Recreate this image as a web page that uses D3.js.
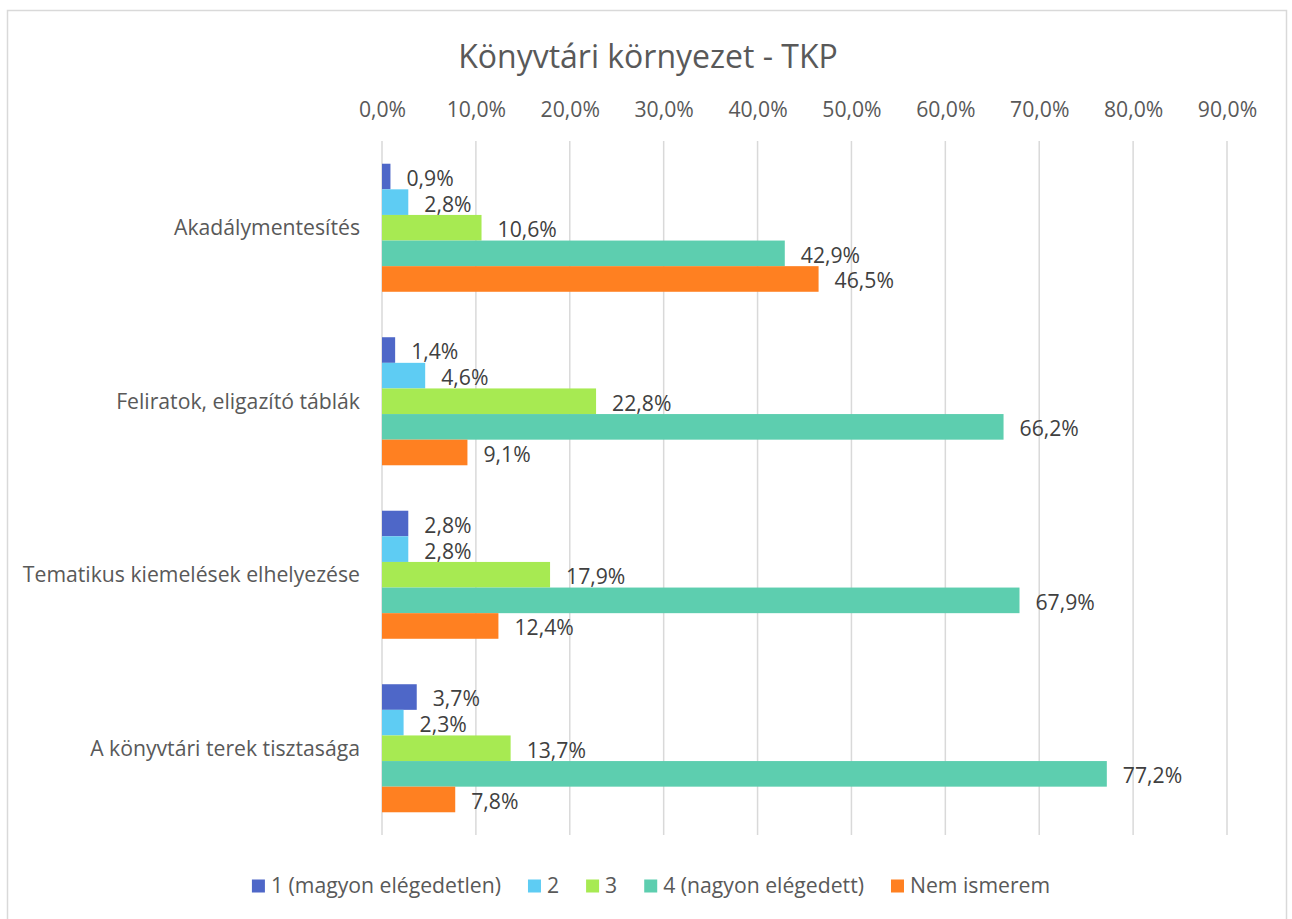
<!DOCTYPE html>
<html>
<head>
<meta charset="utf-8">
<script src="https://cdn.jsdelivr.net/npm/d3@7"></script>
<style>
    body { margin: 0; background: #fff; }
    svg text { font-family: "Open Sans", "Noto Sans", sans-serif; }
</style>
</head>
<body>
<div id="chart"></div>
<script>
// Chart data
const categories = ["Akadálymentesítés", "Feliratok, eligazító táblák", "Tematikus kiemelések elhelyezése", "A könyvtári terek tisztasága"];
const seriesNames = ["1 (magyon elégedetlen)", "2", "3", "4 (nagyon elégedett)", "Nem ismerem"];
const seriesColors = ["#4E67C8", "#5ECCF3", "#A7EA52", "#5DCEAF", "#FF8021"];
const values = [
    [0.9, 2.8, 10.6, 42.9, 46.5],
    [1.4, 4.6, 22.8, 66.2, 9.1],
    [2.8, 2.8, 17.9, 67.9, 12.4],
    [3.7, 2.3, 13.7, 77.2, 7.8]
];
const xTicks = [0, 10, 20, 30, 40, 50, 60, 70, 80, 90];

const width = 1292, height = 919;
const margin = {top: 141, left: 382};
const fontSize = 21.2;

const svg = d3.select("#chart").append("svg")
    .attr("width", width)
    .attr("height", height);

// chart frame
svg.append("rect")
    .attr("x", 7.5).attr("y", 10.5)
    .attr("width", 1279).attr("height", 930)
    .attr("fill", "none")
    .attr("stroke", "#d9d9d9")
    .attr("stroke-width", 1.5);

svg.append("text")
    .attr("x", 648).attr("y", 68)
    .attr("text-anchor", "middle")
    .attr("font-size", 32)
    .attr("fill", "#595959")
    .text("Könyvtári környezet - TKP");

const g = svg.append("g")
    .attr("transform", `translate(${margin.left},${margin.top})`);

const x = d3.scaleLinear().domain([0, 90]).range([0, 845]);

const y0 = d3.scaleBand()
    .domain(categories)
    .range([0, 694])
    .paddingInner(0.262)
    .paddingOuter(0.131);

const y1 = d3.scaleBand()
    .domain(d3.range(seriesNames.length))
    .range([0, y0.bandwidth()]);

// gridlines
g.selectAll(".grid")
    .data(xTicks)
    .enter().append("line")
    .attr("class", "grid")
    .attr("x1", d => x(d)).attr("x2", d => x(d))
    .attr("y1", 0).attr("y2", 694)
    .attr("stroke", "#d9d9d9")
    .attr("stroke-width", 1.5);

// top axis
const xAxis = d3.axisTop(x)
    .tickValues(xTicks)
    .tickSize(0)
    .tickPadding(0)
    .tickFormat(d => d.toFixed(1).replace(".", ",") + "%");

const axisG = g.append("g")
    .attr("transform", "translate(0,-24)")
    .call(xAxis);
axisG.select(".domain").remove();
axisG.selectAll("text")
    .attr("font-size", fontSize)
    .attr("font-family", null)
    .attr("fill", "#595959");

// category labels
g.selectAll(".cat")
    .data(categories)
    .enter().append("text")
    .attr("class", "cat")
    .attr("x", -22)
    .attr("y", d => y0(d) + y0.bandwidth() / 2)
    .attr("dy", "0.35em")
    .attr("text-anchor", "end")
    .attr("font-size", fontSize)
    .attr("fill", "#595959")
    .text(d => d);

// bars
const groups = g.selectAll(".group")
    .data(categories)
    .enter().append("g")
    .attr("class", "group")
    .attr("transform", d => `translate(0,${y0(d)})`);

groups.selectAll("rect")
    .data((d, i) => values[i].map((v, j) => ({v: v, s: j})))
    .enter().append("rect")
    .attr("x", 0)
    .attr("y", d => y1(d.s))
    .attr("width", d => x(d.v))
    .attr("height", y1.bandwidth())
    .attr("fill", d => seriesColors[d.s]);

groups.selectAll(".lbl")
    .data((d, i) => values[i].map((v, j) => ({v: v, s: j})))
    .enter().append("text")
    .attr("class", "lbl")
    .attr("x", d => x(d.v) + 16)
    .attr("y", d => y1(d.s) + y1.bandwidth() / 2 + 2)
    .attr("dy", "0.35em")
    .attr("font-size", fontSize)
    .attr("fill", "#404040")
    .text(d => d.v.toFixed(1).replace(".", ",") + "%");

// legend, laid out from measured text widths and centred
const legend = svg.append("g");
const items = legend.selectAll(".legend")
    .data(seriesNames)
    .enter().append("g")
    .attr("class", "legend");

items.append("rect")
    .attr("x", 0).attr("y", -6.5)
    .attr("width", 13).attr("height", 13)
    .attr("fill", (d, i) => seriesColors[i]);

items.append("text")
    .attr("x", 19).attr("y", 0)
    .attr("dy", "0.35em")
    .attr("font-size", fontSize)
    .attr("fill", "#595959")
    .text(d => d);

const gap = 27;
let cursor = 0;
items.each(function() {
    const w = 19 + d3.select(this).select("text").node().getComputedTextLength();
    d3.select(this).attr("transform", `translate(${cursor},886)`);
    cursor += w + gap;
});
const total = cursor - gap;
legend.attr("transform", `translate(${651 - total / 2},0)`);
</script>
</body>
</html>
